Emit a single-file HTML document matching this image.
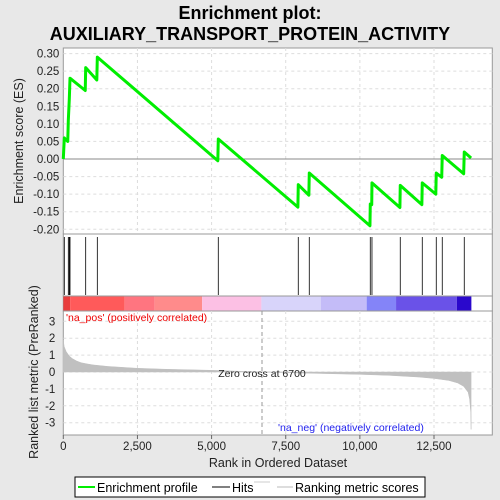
<!DOCTYPE html>
<html><head><meta charset="utf-8"><style>
body{margin:0;background:#e8e8e8;}
svg{display:block;font-family:"Liberation Sans","DejaVu Sans",sans-serif;}
</style></head><body>
<svg id="c" width="500" height="500" viewBox="0 0 500 500">
<rect width="500" height="500" fill="#e8e8e8"/>
<text x="250" y="19" text-anchor="middle" font-size="18" font-weight="bold" fill="#000">Enrichment plot:</text>
<text x="250" y="40" text-anchor="middle" font-size="18" font-weight="bold" fill="#000">AUXILIARY_TRANSPORT_PROTEIN_ACTIVITY</text>
<g id="gtop"></g>
<g id="ghits"></g>
<g id="gbar"></g>
<g id="gbot"></g>
<g>
<rect x="75" y="477" width="350" height="20" fill="#fff" stroke="#000"/>
<line x1="78" y1="487" x2="95" y2="487" stroke="#00ee00" stroke-width="2"/>
<text x="97" y="492" font-size="12.5">Enrichment profile</text>
<line x1="212" y1="487" x2="230" y2="487" stroke="#000"/>
<text x="232" y="492" font-size="12.5">Hits</text>
<line x1="254" y1="482" x2="270" y2="482" stroke="#ccc"/>
<line x1="277" y1="487" x2="293" y2="487" stroke="#bbb"/>
<text x="295" y="492" font-size="12.5">Ranking metric scores</text>
</g>
</svg>
<script>
const esRanks=[0,34,150,169,202,226,740,755,1130,1147,5210,5226,7910,7923,8280,8294,10340,10351,10400,10408,11350,11362,12090,12104,12560,12576,12760,12778,13500,13520,13750];
const esValues=[0,0.06,0.05,0.11,0.17,0.23,0.195,0.26,0.225,0.29,-0.005,0.057,-0.137,-0.073,-0.103,-0.04,-0.19,-0.128,-0.13,-0.068,-0.138,-0.075,-0.13,-0.068,-0.1,-0.04,-0.052,0.01,-0.042,0.02,0.003];
const hitRanks=[34,169,202,226,755,1147,5226,7923,8294,10351,10408,11362,12104,12576,12778,13520];
const metricRanks=[0,30,100,200,300,450,600,800,1000,1500,2500,3500,5000,6000,6700,8000,9000,10000,11000,12000,12500,13000,13300,13500,13650,13700,13740,13750];
const metricValues=[1.9,1.5,1.2,0.95,0.8,0.65,0.55,0.48,0.42,0.33,0.22,0.16,0.1,0.04,0,-0.06,-0.1,-0.14,-0.2,-0.3,-0.38,-0.5,-0.65,-0.85,-1.2,-1.6,-2.4,-3.4];
const esTicks=[0.30,0.25,0.20,0.15,0.10,0.05,0.00,-0.05,-0.10,-0.15,-0.20];
const metricTicks=[3,2,1,0,-1,-2,-3];
const rankTicks=[0,2500,5000,7500,10000,12500];
const barStops=[0,230,2070,3080,4680,6680,8680,10230,11220,13270,13760];
const barColors=['#e83c3c','#ff5a5a','#ff7580','#ff8b8b','#fcc0e4','#d8d4fa','#c4bcf8','#8484f8','#6a52e8','#2a08cc'];
const NS='http://www.w3.org/2000/svg';
const L=63.3,R=492.3;
const X=r=>L+r*0.029657;
const Yes=v=>159-v*351.3;
const Ym=v=>372-v*16.9;
function mk(p,t,a){const e=document.createElementNS(NS,t);for(const k in a)e.setAttribute(k,a[k]);p.appendChild(e);return e;}
const gTop=document.getElementById('gtop'),gHits=document.getElementById('ghits'),gBar=document.getElementById('gbar'),gBot=document.getElementById('gbot');
let r=mk(gTop,'rect',{x:L,y:48,width:R-L,height:186,fill:'#fff',stroke:'#999'});


esTicks.forEach(t=>{const y=Yes(t);
 let g=mk(gTop,'line',{x1:L,x2:R,y1:y,y2:y,stroke:'#ddd','stroke-dasharray':'3,3'});
 
 
 let tx=mk(gTop,'text',{x:L-4,y:y+4,'text-anchor':'end','font-size':'11.5',fill:'#222'});tx.textContent=t.toFixed(2);
 
 });
rankTicks.forEach(t=>{if(t===0)return;const x=X(t);
 let g=mk(gTop,'line',{x1:x,x2:x,y1:48,y2:234,stroke:'#ddd','stroke-dasharray':'3,3'});
 
 });
let z=mk(gTop,'line',{x1:L,x2:R,y1:Yes(0),y2:Yes(0),stroke:'#888'});


let pl=mk(gTop,'polyline',{points:esRanks.map((k,i)=>X(k)+','+Yes(esValues[i])).join(' '),fill:'none',stroke:'#00ee00','stroke-width':3,'stroke-linejoin':'round'});


let yl=mk(gTop,'text',{x:0,y:0,transform:'translate(23,141) rotate(-90)','text-anchor':'middle','font-size':'12.5',fill:'#222'});yl.textContent='Enrichment score (ES)';


let hr=mk(gHits,'rect',{x:L,y:234,width:R-L,height:62,fill:'#fff',stroke:'#999'});


hitRanks.forEach(h=>{let l=mk(gHits,'line',{x1:X(h),x2:X(h),y1:237,y2:295,stroke:'#000','stroke-width':0.8});
 
 });
let br=mk(gBar,'rect',{x:L,y:296,width:R-L,height:15,fill:'#fff',stroke:'#999'});


barColors.forEach((c,i)=>{let s=mk(gBar,'rect',{x:X(barStops[i]),y:296.5,width:X(barStops[i+1])-X(barStops[i]),height:14,fill:c});
 
 });
let bb=mk(gBot,'rect',{x:L,y:311,width:R-L,height:124,fill:'#fff',stroke:'#999'});


metricTicks.forEach(t=>{const y=Ym(t);
 let g=mk(gBot,'line',{x1:L,x2:R,y1:y,y2:y,stroke:'#ddd','stroke-dasharray':'3,3'});
 
 
 let tx=mk(gBot,'text',{x:L-8,y:y+4,'text-anchor':'end','font-size':'11.5',fill:'#222'});tx.textContent=t;
 
 });
rankTicks.forEach(t=>{const x=X(t);
 if(t>0){let g=mk(gBot,'line',{x1:x,x2:x,y1:311,y2:435,stroke:'#ddd','stroke-dasharray':'3,3'});
 
 }
 let tk=mk(gBot,'line',{x1:x,x2:x,y1:435,y2:439,stroke:'#666'});
 
 
 let tx=mk(gBot,'text',{x:x,y:450,'text-anchor':'middle','font-size':'11.5',fill:'#222'});tx.textContent=t.toLocaleString('en-US');
 
 });
let pts=[X(0)+','+Ym(0)];metricRanks.forEach((k,i)=>pts.push(X(k)+','+Ym(metricValues[i])));pts.push(X(metricRanks[metricRanks.length-1])+','+Ym(0));
let area=mk(gBot,'polygon',{points:pts.join(' '),fill:'#c0c0c0',stroke:'#c0c0c0','stroke-width':0.5});


let zc=mk(gBot,'line',{x1:X(6700),x2:X(6700),y1:311,y2:435,stroke:'#999','stroke-dasharray':'4,3'});


let zt=mk(gBot,'text',{x:X(6700),y:377,'text-anchor':'middle','font-size':'10.5',fill:'#222'});zt.textContent='Zero cross at 6700';


let pt=mk(gBot,'text',{x:66,y:321,'font-size':'10.5',fill:'#e00'});pt.textContent="'na_pos' (positively correlated)";


let nt=mk(gBot,'text',{x:278,y:431,'font-size':'10.5',fill:'#22e'});nt.textContent="'na_neg' (negatively correlated)";


let xl=mk(gBot,'text',{x:278,y:467,'text-anchor':'middle','font-size':'12.5',fill:'#222'});xl.textContent='Rank in Ordered Dataset';


let ml=mk(gBot,'text',{x:0,y:0,transform:'translate(38,372) rotate(-90)','text-anchor':'middle','font-size':'12.5',fill:'#222'});ml.textContent='Ranked list metric (PreRanked)';


</script>
</body></html>
